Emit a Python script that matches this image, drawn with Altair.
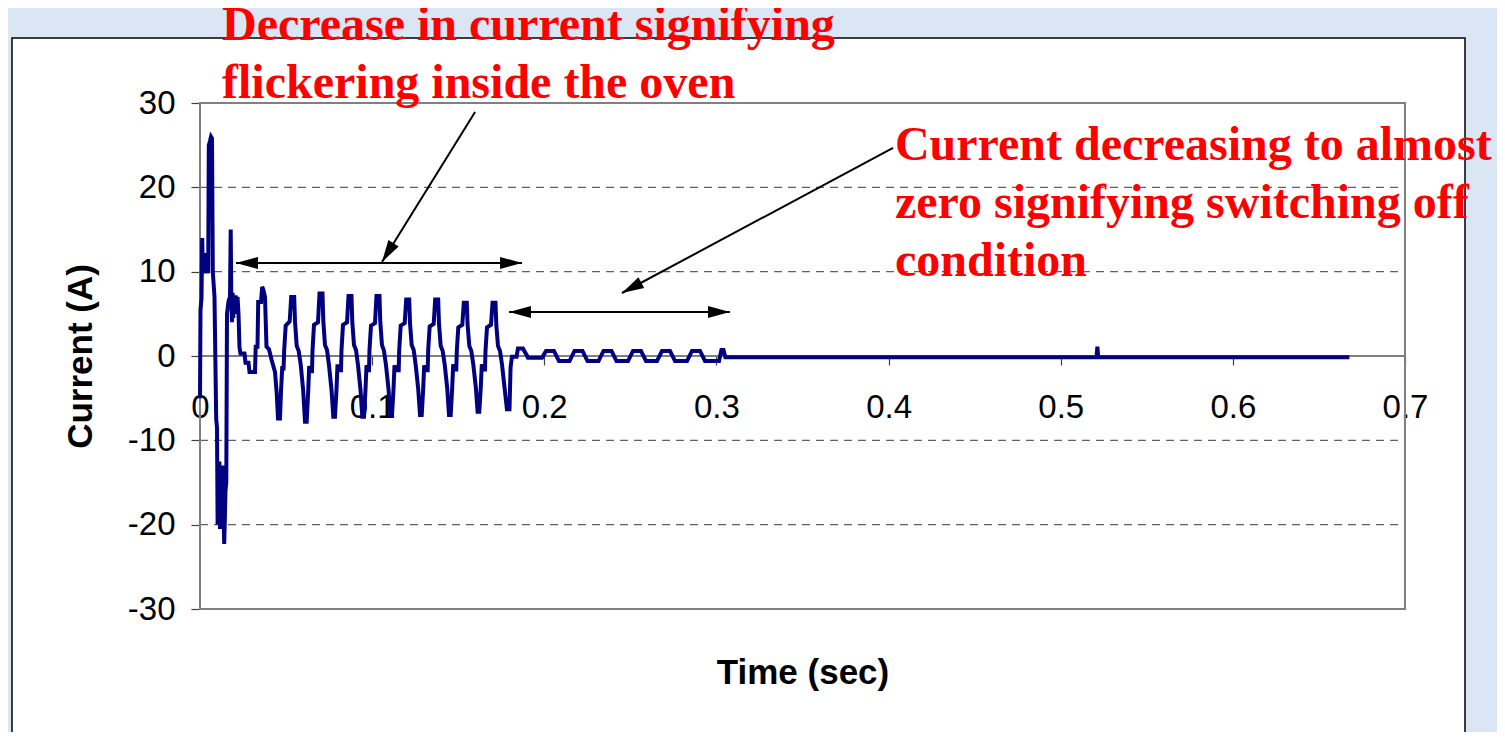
import altair as alt
import pandas as pd

W, H = 1205, 506

# ---- waveform (time in ms, current in A) ----
startup_t = [0.0, 0.29, 0.87, 1.28, 1.63, 2.03, 2.61, 3.20, 3.78, 4.36, 4.76, 5.11, 5.81, 6.39, 6.97,
             7.44, 8.42, 9.41, 9.88, 10.23, 10.57, 10.92, 11.27, 11.62, 11.97, 12.32, 12.66, 13.01,
             13.36, 13.71, 14.06, 14.41, 14.81, 15.28, 15.68, 16.56, 17.43, 17.84, 18.19, 18.59,
             18.94, 19.35, 19.75, 20.22, 20.68, 21.21, 21.79, 22.37, 22.95]
startup_i = [-5.0, 5.5, 6.8, 14.0, 10.5, 12.0, 9.8, 12.2, 10.0, 11.5, 9.8, 25.0, 25.5, 26.0, 25.8,
             10.0, 7.0, -7.5, -8.5, -20.0, -13.0, -19.5, -12.5, -20.5, -13.0, -20.0, -14.5, -20.0,
             -13.0, -19.0, -22.3, -19.5, -16.0, -15.0, 5.0, 6.5, 7.0, 15.0, 7.0, 4.0,
             7.5, 4.5, 7.0, 5.0, 7.2, 5.5, 7.0, 5.0, 1.0]

flicker_t = [23.53, 25.85, 26.43, 28.17, 28.76, 31.95, 32.36, 33.40, 33.81, 35.44, 36.13, 36.89, 37.76,
             38.63, 40.08, 41.65, 43.57, 44.56, 45.31, 46.47, 47.06, 47.81, 48.51,
             48.91, 49.78, 52.11, 52.98, 54.72, 55.19, 56.17, 57.34, 58.50, 59.95, 61.00, 61.98, 62.85, 63.44, 64.31,
             65.06, 65.35, 66.22, 68.55, 69.42, 71.16, 71.63, 72.61, 73.78, 74.94, 76.39, 77.44, 78.42, 79.29, 79.88, 80.75,
             81.91, 82.20, 83.07, 85.40, 86.27, 88.01, 88.48, 89.46, 90.63, 91.79, 93.24, 94.29, 95.27, 96.14, 96.73, 97.60,
             98.17, 98.46, 99.33, 101.66, 102.53, 104.27, 104.74, 105.72, 106.89, 108.05, 109.50, 110.55, 111.53, 112.40, 112.99, 113.86,
             115.43, 115.72, 116.59, 118.92, 119.79, 121.53, 122.00, 122.98, 124.15, 125.31, 126.76, 127.81, 128.79, 129.66, 130.25, 131.12,
             132.27, 132.56, 133.43, 135.76, 136.63, 138.37, 138.84, 139.82, 140.99, 142.15, 143.60, 144.65, 145.63, 146.50, 147.09, 147.96,
             148.89, 149.18, 150.05, 152.38, 153.25, 154.99, 155.46, 156.44, 157.61, 158.77, 160.22, 161.27, 162.25, 163.12, 163.71, 164.58,
             165.56, 165.85, 166.72, 169.05, 169.92, 171.66, 172.13, 173.11, 174.28, 175.44, 176.89, 178.30]
flicker_i = [0.3, 0.3, -0.8, -0.8, -1.9, -1.9, 1.1, 1.1, 6.4, 6.4, 8.2, 7.8, 7.0,
             1.1, 0.8, -0.5, -1.9, -4.4, -7.4, -7.4, -4.2, -1.2, -1.7,
             0.7, 3.6, 4.1, 7.0, 7.0, 4.1, 1.2, 0.6, -1.0, -4.1, -7.8, -7.8, -4.2, -1.2, -1.8,
             -1.8, 0.6, 3.7, 4.0, 7.4, 7.4, 4.2, 1.3, 0.7, -1.1, -4.0, -7.2, -7.2, -4.0, -1.0, -1.7,
             -1.7, 0.7, 3.7, 4.0, 7.1, 7.1, 4.0, 1.3, 0.7, -1.1, -4.0, -7.2, -7.2, -4.0, -1.1, -1.7,
             -1.7, 0.7, 3.6, 3.9, 7.1, 7.1, 4.0, 1.3, 0.6, -1.1, -3.9, -7.0, -7.0, -4.0, -1.1, -1.7,
             -1.7, 0.7, 3.6, 3.9, 6.7, 6.7, 3.9, 1.3, 0.7, -1.1, -3.9, -7.0, -7.0, -3.9, -1.1, -1.7,
             -1.7, 0.7, 3.5, 3.8, 6.7, 6.7, 3.8, 1.2, 0.6, -1.0, -3.8, -7.0, -7.0, -3.8, -1.0, -1.6,
             -1.6, 0.6, 3.4, 3.7, 6.3, 6.3, 3.7, 1.2, 0.6, -1.0, -3.7, -6.6, -6.6, -3.7, -1.0, -1.6,
             -1.6, 0.6, 3.4, 3.7, 6.3, 6.3, 3.7, 1.2, 0.6, -1.0, -3.7, -6.3]

decay_t = [179.8, 180.4, 181.2, 183.9, 184.7, 187.6, 189.8, 190.5, 198.7,
           200.98, 205.62, 208.53, 214.65, 217.56, 222.20, 225.11, 231.50, 234.41, 239.05, 241.96,
           248.63, 251.54, 256.18, 259.09, 265.48, 268.39, 273.03, 275.94, 282.91, 285.82, 290.46,
           293.37, 298.30, 301.5, 302.9, 304.1, 305.2]
decay_i = [-6.3, -1.4, -0.1, -0.1, 0.9, 0.9, 0.1, -0.2, -0.2,
           0.6, 0.6, -0.6, -0.6, 0.6, 0.6, -0.6, -0.6, 0.6, 0.6, -0.6,
           -0.6, 0.6, 0.6, -0.6, -0.6, 0.6, 0.6, -0.6, -0.6, 0.6, 0.6,
           -0.6, -0.6, -0.6, 0.7, 0.7, -0.15]

off_t = [323.4, 377.0, 430.9, 485.0, 520.8, 521.3, 521.8, 539.9, 593.5, 647.2, 667.7]
off_i = [-0.15, -0.15, -0.15, -0.15, -0.15, 1.1, -0.15, -0.15, -0.15, -0.15, -0.15]

x_ticks = [0, 0.1, 0.2, 0.3, 0.4, 0.5, 0.6, 0.7]
y_ticks = [-30, -20, -10, 0, 10, 20, 30]
grid_levels = [-20, -10, 10, 20]

note_text = ["Decrease in current signifying\nflickering inside the oven",
             "Current decreasing to almost\nzero signifying switching off\ncondition"]
note_t = [0.0128, 0.4037]
note_y = [37.5, 23.25]

arrow_t1 = [0.1598, 0.0209, 0.4026, 0.1795]
arrow_y1 = [28.94, 11.03, 24.67, 5.22]
arrow_t2 = [0.1057, 0.1871, 0.2451, 0.3079]
arrow_y2 = [11.15, 11.03, 7.47, 5.22]

head_t = [0.1057, 0.0209, 0.1871, 0.2451, 0.1795, 0.3079]
head_y = [11.15, 11.03, 11.03, 7.47, 5.22, 5.22]
head_angle = [211.8, 270, 90, 241.9, 270, 90]

# ---- tables ----
all_t = startup_t + flicker_t + decay_t + off_t
all_i = startup_i + flicker_i + decay_i + off_i
wave = pd.DataFrame({"t": [v / 1000 for v in all_t], "i": all_i, "idx": list(range(len(all_t)))})
one = pd.DataFrame({"a": [0]})
grid_df = pd.DataFrame({"i": grid_levels})
zero_df = pd.DataFrame({"i": [0]})
notes = pd.DataFrame({"t": note_t, "i": note_y, "txt": note_text})
arrows = pd.DataFrame({"t": arrow_t1, "i": arrow_y1, "t2": arrow_t2, "i2": arrow_y2})
heads = pd.DataFrame({"t": head_t, "i": head_y, "a": head_angle})

xs = alt.Scale(domain=[0, 0.7], nice=False, zero=False)
ys = alt.Scale(domain=[-30, 30], nice=False)

SANS = "Liberation Sans"

x_axis = alt.Axis(values=x_ticks, format="~g", offset=-H / 2, tickSize=9, tickColor="#404040",
                  tickWidth=1.2, domain=False, grid=False, labelFont=SANS, labelFontSize=33,
                  labelColor="black", labelPadding=26, labelFlush=False, labelOverlap=False,
                  title="Time (sec)", titleFont=SANS, titleFontSize=35, titleFontWeight="bold",
                  titleColor="black", titleY=316, titleBaseline="middle")
y_axis = alt.Axis(values=y_ticks, labelExpr="datum.value + ''", tickSize=9, tickColor="#404040",
                  tickWidth=1.2, domain=False, grid=False, labelFont=SANS, labelFontSize=33,
                  labelColor="black", labelPadding=16, labelOverlap=False,
                  title="Current (A)", titleFont=SANS, titleFontSize=35, titleFontWeight="bold",
                  titleColor="black", titleX=-120, titleY=H / 2, titleAngle=270,
                  titleBaseline="middle", titleAlign="center")

X = alt.X("t:Q", scale=xs, axis=x_axis)
Y = alt.Y("i:Q", scale=ys, axis=y_axis)

BLUE = "#dae6f4"
strip_left = alt.Chart(one).mark_rect(color=BLUE).encode(
    x=alt.value(-200), x2=alt.value(-188), y=alt.value(-110), y2=alt.value(H + 140))
strip_top = alt.Chart(one).mark_rect(color=BLUE).encode(
    x=alt.value(-200), x2=alt.value(W + 100), y=alt.value(-110), y2=alt.value(-65))
strip_right = alt.Chart(one).mark_rect(color=BLUE).encode(
    x=alt.value(1265), x2=alt.value(W + 100), y=alt.value(-110), y2=alt.value(H + 140))
box = alt.Chart(one).mark_rect(fillOpacity=0, stroke="black", strokeWidth=1.5).encode(
    x=alt.value(-188), x2=alt.value(1265), y=alt.value(-65), y2=alt.value(H + 160))

grid = alt.Chart(grid_df).mark_rule(color="#606060", strokeWidth=1.2, strokeDash=[8, 6]).encode(
    y=Y, x=alt.value(0), x2=alt.value(W))

zero = alt.Chart(zero_df).mark_rule(color="#808080", strokeWidth=2).encode(
    y=Y, x=alt.value(0), x2=alt.value(W))

frame = alt.Chart(one).mark_rect(fillOpacity=0, stroke="#808080", strokeWidth=2).encode(
    x=alt.value(0), x2=alt.value(W), y=alt.value(0), y2=alt.value(H))

line = alt.Chart(wave).mark_line(color="#000080", strokeWidth=4).encode(
    x=X, y=Y, order="idx:Q")

arrow_lines = alt.Chart(arrows).mark_rule(color="black", strokeWidth=2).encode(
    x=X, y=Y, x2="t2:Q", y2="i2:Q")

arrow_heads = alt.Chart(heads).mark_point(shape="M0,0L0.55,2L-0.55,2Z", filled=True, color="black",
                                          size=484, opacity=1, strokeWidth=0).encode(
    x=X, y=Y, angle=alt.Angle("a:Q", scale=None))

texts = alt.Chart(notes).mark_text(align="left", baseline="alphabetic", font="Liberation Serif",
                                   fontWeight="bold", fontSize=48, color="#ff0000",
                                   lineBreak="\n", lineHeight=58).encode(
    x=X, y=Y, text="txt:N")

chart = alt.layer(strip_left, strip_top, strip_right, box, grid, zero, frame, line,
                  arrow_lines, arrow_heads, texts).properties(
    width=W, height=H,
    autosize=alt.AutoSizeParams(type="none"),
    padding={"left": 192, "top": 95, "right": 92, "bottom": 123},
    background="white",
).configure_view(strokeWidth=0)

chart.save("out.html", embed_options={"renderer": "svg", "actions": False})
